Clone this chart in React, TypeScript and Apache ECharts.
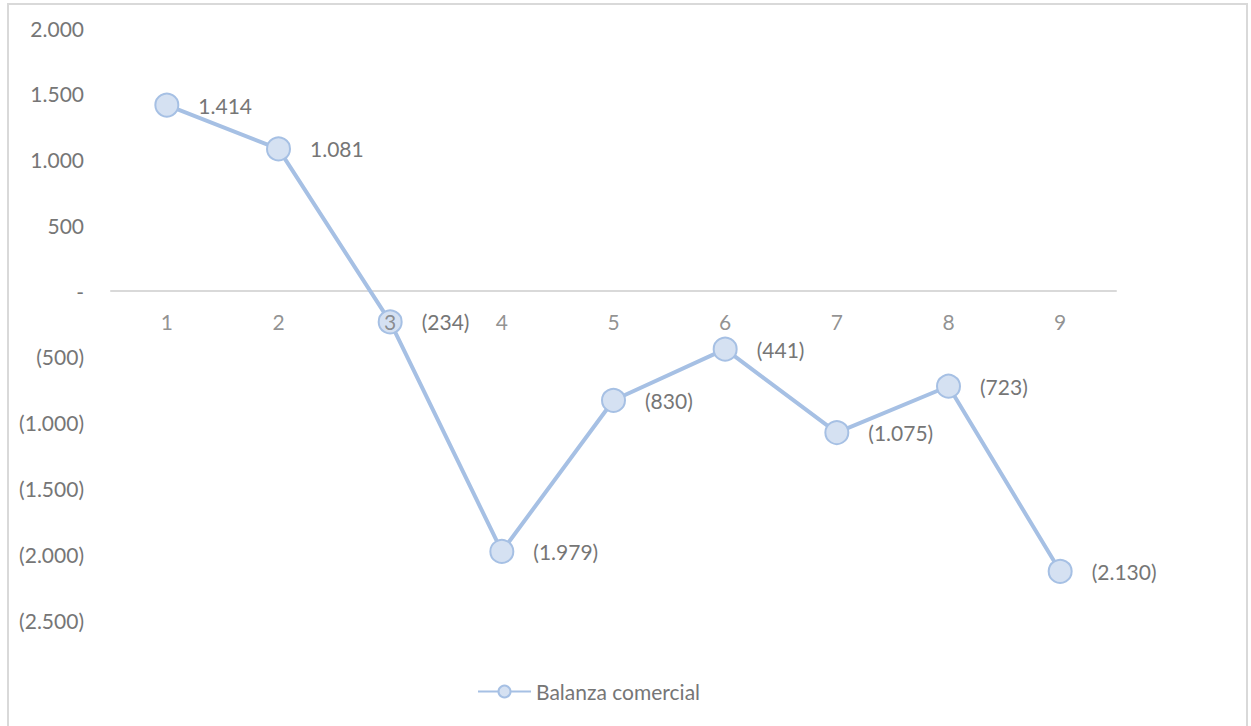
import React, { useEffect, useRef } from "react";
import * as echarts from "echarts";

const categories = ["1", "2", "3", "4", "5", "6", "7", "8", "9"];
const balanzaComercial = [1414, 1081, -234, -1979, -830, -441, -1075, -723, -2130];
const seriesName = "Balanza comercial";

// Accounting-style number: 1.414 / (234) / -
function fmt(v: number): string {
  if (v === 0) return "-";
  const s = Math.abs(v)
    .toFixed(0)
    .replace(/\B(?=(\d{3})+(?!\d))/g, ".");
  return v < 0 ? `(${s})` : s;
}

const FONT = "Lato, 'Open Sans', sans-serif";
const TEXT = "#767676";
const FS = 21;
const LINE = "#a6c0e4";

export default function App() {
  const ref = useRef<HTMLDivElement>(null);

  useEffect(() => {
    if (!ref.current) return;
    const chart = echarts.init(ref.current, undefined, { renderer: "svg" });
    chart.setOption({
      animation: false,
      backgroundColor: "#ffffff",
      textStyle: { fontFamily: FONT },
      graphic: [
        {
          type: "rect",
          shape: { x: 8, y: 4, width: 1239, height: 740 },
          style: { fill: "none", stroke: "#d9d9d9", lineWidth: 2 },
          silent: true,
        },
      ],
      grid: { left: 111, right: 135, top: 28, bottom: 106 },
      legend: {
        data: [seriesName],
        left: 477,
        top: 681,
        padding: 0,
        itemWidth: 53,
        itemHeight: 15,
        itemGap: 4,
        textStyle: { color: TEXT, fontSize: FS, fontFamily: FONT },
      },
      xAxis: {
        type: "category",
        data: categories,
        boundaryGap: true,
        axisLine: { onZero: true, lineStyle: { color: "#d9d9d9", width: 2 } },
        axisTick: { show: false },
        axisLabel: { show: false },
      },
      yAxis: {
        type: "value",
        min: -2500,
        max: 2000,
        interval: 500,
        splitLine: { show: false },
        axisLine: { show: false },
        axisTick: { show: false },
        axisLabel: {
          color: TEXT,
          fontSize: FS,
          margin: 27,
          fontFamily: FONT,
          formatter: (v: number) => fmt(v),
        },
      },
      series: [
        {
          name: seriesName,
          type: "line",
          data: balanzaComercial,
          symbol: "circle",
          symbolSize: 23,
          z: 2,
          lineStyle: { color: LINE, width: 4 },
          itemStyle: { color: "#d5e1f2", borderColor: LINE, borderWidth: 2 },
          label: {
            show: true,
            position: "right",
            distance: 19,
            color: TEXT,
            fontSize: FS,
            fontFamily: FONT,
            formatter: (p: any) => fmt(p.value),
          },
        },
        {
          // category labels placed just under the zero line
          name: "categoryLabels",
          type: "scatter",
          data: categories.map(() => 0),
          symbolSize: 0,
          silent: true,
          z: 5,
          label: {
            show: true,
            position: "bottom",
            distance: 20,
            color: TEXT,
            fontSize: FS,
            fontFamily: FONT,
            formatter: (p: any) => p.name,
          },
        },
      ],
    });
    return () => chart.dispose();
  }, []);

  return (
    <div
      ref={ref}
      style={{ position: "absolute", left: 0, top: 0, width: 1251, height: 726 }}
    />
  );
}
